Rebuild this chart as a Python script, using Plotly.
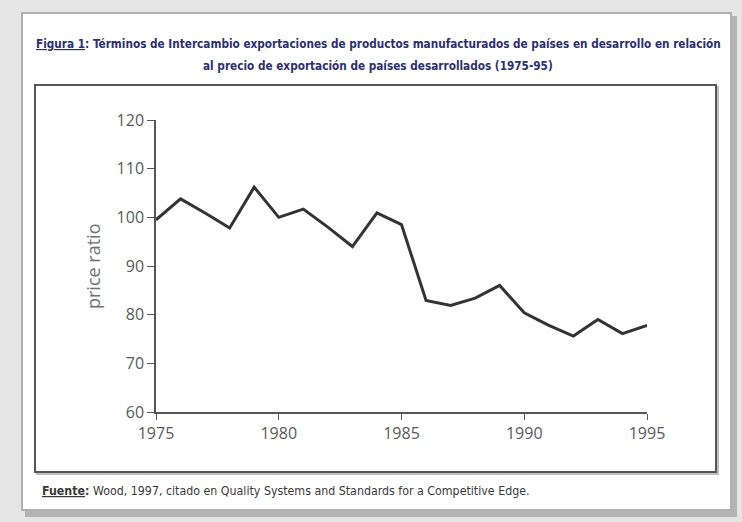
import plotly.graph_objects as go

years = list(range(1975, 1996))
price_ratio = [
    99.5, 103.8, 100.9, 97.8, 106.2, 100.0, 101.7, 98.0, 94.0, 100.9, 98.5,
    82.9, 81.9, 83.4, 86.0, 80.4, 77.8, 75.6, 79.0, 76.1, 77.8,
]
x_ticks = [1975, 1980, 1985, 1990, 1995]
y_ticks = [60, 70, 80, 90, 100, 110, 120]

W, H = 742, 522
NARROW = "DejaVu Sans Condensed, Liberation Sans, sans-serif"
AXIS_FONT = "Open Sans, Liberation Sans, sans-serif"


def px_x(v):
    return v / W


def px_y(v):
    return 1 - v / H


title_line1 = (
    "<b><u>Figura 1</u>: Términos de Intercambio exportaciones de productos manufacturados "
    "de países en desarrollo en relación</b>"
)
title_line2 = "<b>al precio de exportación de países desarrollados (1975-95)</b>"
source_text = (
    "<b><u>Fuente</u>:</b> Wood, 1997, citado en Quality Systems and Standards "
    "for a Competitive Edge."
)

fig = go.Figure()
fig.add_trace(
    go.Scatter(
        x=years,
        y=price_ratio,
        mode="lines",
        line=dict(color="#333333", width=3),
        showlegend=False,
    )
)

shapes = [
    # card shadow
    dict(type="rect", xref="paper", yref="paper",
         x0=px_x(25), x1=px_x(737), y0=px_y(517), y1=px_y(16),
         fillcolor="#b4b4b4", line=dict(width=0), layer="below"),
    # white card
    dict(type="rect", xref="paper", yref="paper",
         x0=px_x(22), x1=px_x(731), y0=px_y(510), y1=px_y(13),
         fillcolor="white", line=dict(color="#b0b0b0", width=2), layer="below"),
    # chart frame shadow
    dict(type="rect", xref="paper", yref="paper",
         x0=px_x(37), x1=px_x(718), y0=px_y(474), y1=px_y(87),
         fillcolor="rgba(0,0,0,0)", line=dict(color="#bdbdbd", width=2), layer="below"),
    # chart frame
    dict(type="rect", xref="paper", yref="paper",
         x0=px_x(35), x1=px_x(716), y0=px_y(472), y1=px_y(85),
         fillcolor="white", line=dict(color="#555555", width=2), layer="below"),
]

annotations = [
    dict(text=title_line1, xref="paper", yref="paper", x=px_x(378), y=px_y(44),
         showarrow=False, xanchor="center", yanchor="middle",
         font=dict(family=NARROW, size=11.7, color="#2b2f72")),
    dict(text=title_line2, xref="paper", yref="paper", x=px_x(378), y=px_y(66),
         showarrow=False, xanchor="center", yanchor="middle",
         font=dict(family=NARROW, size=11.7, color="#2b2f72")),
    dict(text=source_text, xref="paper", yref="paper", x=px_x(40), y=px_y(491),
         showarrow=False, align="left", xanchor="left", yanchor="middle",
         font=dict(family=NARROW, size=12.3, color="#3a3a3a")),
    dict(text="price ratio", xref="paper", yref="paper", x=px_x(93), y=px_y(267),
         showarrow=False, textangle=-90, xanchor="center", yanchor="middle",
         font=dict(family=AXIS_FONT, size=18, color="#707070")),
]

fig.update_layout(
    width=W,
    height=H,
    margin=dict(l=0, r=0, t=0, b=0, autoexpand=False),
    paper_bgcolor="#e6e6e6",
    plot_bgcolor="rgba(0,0,0,0)",
    shapes=shapes,
    annotations=annotations,
    xaxis=dict(
        domain=[px_x(156), px_x(647)],
        range=[1975, 1995],
        tickvals=x_ticks,
        ticks="outside",
        ticklen=6,
        tickcolor="#555555",
        showline=True,
        linecolor="#555555",
        linewidth=1.5,
        showgrid=False,
        zeroline=False,
        automargin=False,
        tickfont=dict(family=AXIS_FONT, size=16, color="#5a5a5a"),
    ),
    yaxis=dict(
        domain=[px_y(412), px_y(120)],
        range=[60, 120],
        tickvals=y_ticks,
        ticks="outside",
        ticklen=7,
        tickcolor="#555555",
        showline=True,
        linecolor="#555555",
        linewidth=1.5,
        showgrid=False,
        zeroline=False,
        automargin=False,
        tickfont=dict(family=AXIS_FONT, size=16, color="#5a5a5a"),
    ),
)

fig.write_html(
    "out.html",
    config={"displayModeBar": False},
    post_script="document.body.style.margin='0px';",
)
